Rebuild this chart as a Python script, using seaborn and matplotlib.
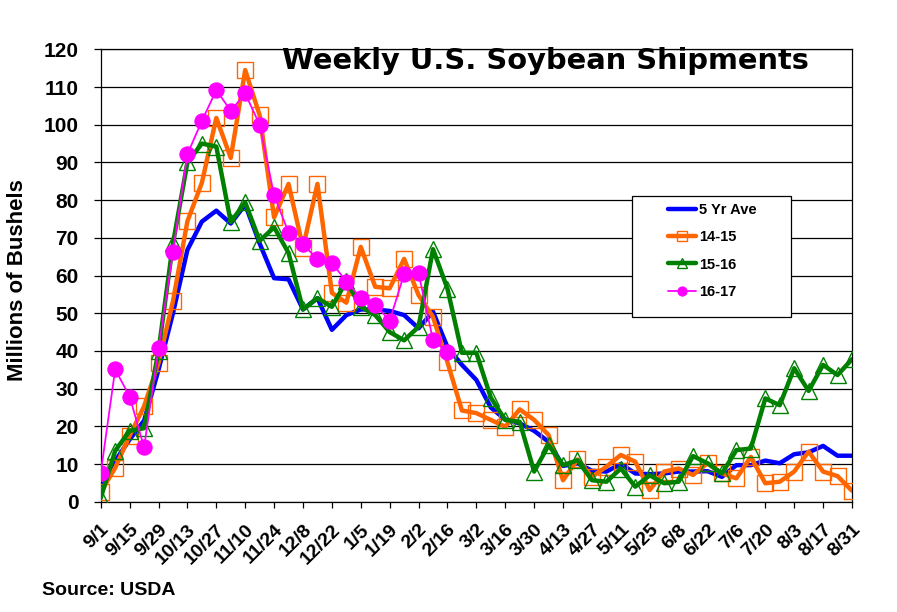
import numpy as np
import pandas as pd
import seaborn as sns
import matplotlib.pyplot as plt
from matplotlib.patches import Rectangle

# weekly dates, Sep 1 .. Aug 31
weeks = ["9/1", "9/8", "9/15", "9/22", "9/29", "10/6", "10/13", "10/20", "10/27",
         "11/3", "11/10", "11/17", "11/24", "12/1", "12/8", "12/15", "12/22", "12/29",
         "1/5", "1/12", "1/19", "1/26", "2/2", "2/9", "2/16", "2/23", "3/2", "3/9",
         "3/16", "3/23", "3/30", "4/6", "4/13", "4/20", "4/27", "5/4", "5/11", "5/18",
         "5/25", "6/1", "6/8", "6/15", "6/22", "6/29", "7/6", "7/13", "7/20", "7/27",
         "8/3", "8/10", "8/17", "8/24", "8/31"]

avg5 = [3, 10.8, 16.5, 21.5, 35, 50, 66.8, 74.3, 77.2, 73.8, 78.8, 68.5, 59.3, 59,
        51, 54, 45.6, 49.5, 51, 51, 50.6, 49.5, 46, 50.4, 41, 36.3, 32.3, 25, 21.8,
        20.8, 18.8, 15.9, 9.5, 10.2, 8.2, 8, 10, 7.5, 7.3, 7.5, 8, 8, 8.1, 6.6, 9.7,
        9.7, 10.9, 10.2, 12.6, 13.1, 14.8, 12.2, 12.2]

y1415 = [2.5, 9, 17.5, 25.3, 36.8, 53.2, 74.4, 84.6, 101.8, 91.2, 114.5, 102.5, 75.4,
         84.3, 67.4, 84.3, 55.4, 52.8, 67.6, 57, 56.6, 64.4, 54.8, 49, 37, 24.2, 23.5,
         21.7, 19.9, 24.5, 21.7, 17.7, 5.7, 11.2, 6.6, 9.3, 12.4, 10.6, 3.1, 8, 8.8,
         7.1, 10.2, 7.5, 6.2, 11.9, 4.9, 5.3, 8, 13.3, 8, 6.8, 2.9]

y1516 = [1, 13.5, 18.8, 19.5, 40, 68.5, 90, 95, 94.2, 74.2, 79.4, 69.2, 72.8, 66, 51,
         54, 51.7, 58.5, 51.7, 49.5, 45, 42.8, 46.4, 67, 56.5, 39.5, 39.5, 27.6, 21.7,
         21.2, 8, 15, 9.7, 11, 5.7, 5.3, 8.8, 4, 7, 4.9, 5.3, 12.1, 10.2, 7.5, 13.7,
         14.1, 27.4, 25.6, 35.4, 29.4, 36.3, 33.6, 37.8]

y1617 = [7.6, 35.1, 27.9, 14.4, 40.7, 66.3, 92.2, 101, 109.2, 103.7, 108.3, 100, 81.3,
         71.4, 68.3, 64.3, 63.4, 58.4, 54.1, 52.3, 48, 60.4, 60.6, 42.9, 39.6]

sns.set_style("white")
plt.rcParams['font.family'] = ['Liberation Sans', 'DejaVu Sans']
plt.rcParams['font.weight'] = 'bold'
for key in ['text.color', 'axes.labelcolor', 'xtick.color', 'ytick.color']:
    plt.rcParams[key] = 'black'

fig = plt.figure(figsize=(8.97, 6.12), dpi=100)
ax = fig.add_axes([0.1123, 0.1802, 0.8375, 0.7392])

wk = np.arange(len(weeks))

sns.lineplot(x=wk, y=avg5, ax=ax, color="#0000FF", lw=3.2, label="5 Yr Ave",
             errorbar=None, zorder=3)
sns.lineplot(x=wk, y=y1415, ax=ax, color="#FF6600", lw=3.2, marker="s", ms=11,
             mfc="none", mec="#FF6600", mew=1.0, label="14-15", errorbar=None, zorder=4)
sns.lineplot(x=wk, y=y1516, ax=ax, color="#008000", lw=3.2, marker="^", ms=12,
             mfc="none", mec="#008000", mew=1.0, label="15-16", errorbar=None, zorder=5)
sns.lineplot(x=wk[:len(y1617)], y=y1617, ax=ax, color="#FF00FF", lw=1.3, marker="o",
             ms=11, mfc="#FF00FF", mec="#FF00FF", label="16-17", errorbar=None, zorder=6)

ax.set_xlim(0, len(weeks) - 1)
ax.set_ylim(0, 120)
ax.set_yticks(range(0, 121, 10))
ax.yaxis.grid(True, color="black", lw=0.9)
ax.set_axisbelow(True)

ax.set_xticks(wk[::2])
ax.set_xticklabels(weeks[::2], rotation=45, ha="right", va="top",
                   rotation_mode="anchor", fontsize=14, fontweight="bold")
ax.tick_params(axis="x", direction="out", length=4, width=0.9, pad=10, bottom=True,
               colors="black")
ax.tick_params(axis="y", direction="out", length=5, width=0.9, pad=11,
               labelsize=15, left=True, colors="black")
for lab in ax.get_yticklabels():
    lab.set_fontweight("bold")

for side in ["left", "bottom", "right", "top"]:
    ax.spines[side].set_visible(True)
    ax.spines[side].set_color("black")
    ax.spines[side].set_linewidth(0.9)

ax.set_xlabel("")
ax.set_ylabel("Millions of Bushels", fontsize=16, fontweight="bold", color="black")
ax.yaxis.set_label_coords(-0.097, 0.49)

fig.text(282 / 897, 1 - 69.3 / 612, "Weekly U.S. Soybean Shipments",
         family="DejaVu Sans", fontsize=20.8, fontweight="bold", color="black",
         ha="left", va="baseline")

fig.text(42 / 897, 1 - 595 / 612, "Source: USDA", fontsize=14, fontweight="bold",
         color="black", ha="left", va="baseline")

# legend box
box = Rectangle((632 / 897, 1 - 317 / 612), (791 - 632) / 897, (317 - 196) / 612,
                transform=fig.transFigure, facecolor="white", edgecolor="black",
                lw=0.9, zorder=7, clip_on=False)
ax.add_patch(box)
leg = ax.legend(loc="upper left", bbox_to_anchor=(668 / 897, 1 - 203.3 / 612),
                bbox_transform=fig.transFigure, frameon=False, borderpad=0,
                borderaxespad=0, labelspacing=0.9, handlelength=1.92,
                handletextpad=0.2, markerscale=0.6,
                prop={"size": 10.5, "weight": "bold"})
leg.set_zorder(8)
for t in leg.get_texts():
    t.set_color("black")

fig.savefig("out.png", dpi=100)
